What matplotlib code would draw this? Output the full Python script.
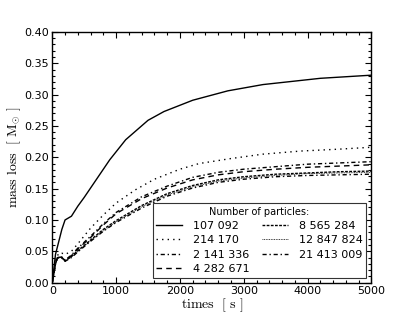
import matplotlib
matplotlib.use("Agg")
import matplotlib.pyplot as plt
from matplotlib.ticker import MultipleLocator
import numpy as np

plt.rcParams['mathtext.fontset'] = 'cm'
plt.rcParams['font.family'] = ['DejaVu Sans']

labels = ["107 092", "214 170", "2 141 336", "4 282 671",
          "8 565 284", "12 847 824", "21 413 009"]

t_a = [0, 50, 100, 150, 200, 300, 400, 500, 700, 900, 1150, 1500, 1750, 2200, 2750, 3300, 4200, 5000]
m_107092 = [0, 0.045, 0.065, 0.085, 0.100, 0.106, 0.122, 0.136, 0.166, 0.196, 0.228, 0.259, 0.273, 0.291, 0.306, 0.316, 0.326, 0.331]

t_b = [0, 50, 100, 150, 200, 300, 400, 600, 800, 1000, 1300, 1600, 2000, 2300, 2800, 3300, 3900, 4500, 5000]
m_214170 = [0, 0.035, 0.047, 0.047, 0.045, 0.050, 0.062, 0.087, 0.108, 0.127, 0.148, 0.165, 0.181, 0.190, 0.198, 0.205, 0.210, 0.213, 0.216]

t_c = [0, 50, 80, 150, 200, 300, 400, 600, 800, 1000, 1400, 1800, 2200, 2600, 3000, 3500, 4000, 4500, 5000]
m_2141336 = [0, 0.030, 0.040, 0.041, 0.036, 0.044, 0.055, 0.074, 0.094, 0.112, 0.137, 0.154, 0.168, 0.176, 0.181, 0.185, 0.189, 0.191, 0.193]
m_4282671 = [0, 0.030, 0.040, 0.040, 0.035, 0.043, 0.054, 0.072, 0.092, 0.110, 0.134, 0.151, 0.164, 0.172, 0.177, 0.181, 0.184, 0.186, 0.188]
m_8565284 = [0, 0.030, 0.040, 0.040, 0.035, 0.042, 0.051, 0.068, 0.085, 0.099, 0.123, 0.142, 0.155, 0.164, 0.169, 0.173, 0.175, 0.177, 0.178]
m_12847824 = [0, 0.030, 0.040, 0.040, 0.034, 0.041, 0.050, 0.067, 0.083, 0.097, 0.121, 0.140, 0.153, 0.162, 0.167, 0.171, 0.174, 0.175, 0.176]
m_21413009 = [0, 0.030, 0.039, 0.039, 0.034, 0.040, 0.049, 0.066, 0.082, 0.096, 0.119, 0.138, 0.151, 0.160, 0.165, 0.169, 0.171, 0.172, 0.173]

fig = plt.figure(figsize=(4.15, 3.13), dpi=100)
ax = fig.add_axes([0.126, 0.097, 0.769, 0.801])

lw = 1.0
ax.plot(t_a, m_107092, color='black', lw=lw, ls='-', label=labels[0])
ax.plot(t_b, m_214170, color='black', lw=lw, ls=(0, (1, 3)), label=labels[1])
ax.plot(t_c, m_2141336, color='black', lw=lw, ls=(0, (1, 2, 3, 2)), label=labels[2])
ax.plot(t_c, m_4282671, color='black', lw=lw, ls=(0, (4, 3)), label=labels[3])
ax.plot(t_c, m_8565284, color='black', lw=lw, ls=(0, (2, 1)), label=labels[4])
ax.plot(t_c, m_12847824, color='black', lw=0.6, ls=(0, (1, 1)), label=labels[5])
ax.plot(t_c, m_21413009, color='black', lw=lw, ls=(0, (3, 2, 1, 2)), label=labels[6])

ax.set_xlim(0, 5000)
ax.set_ylim(0, 0.40)
ax.xaxis.set_major_locator(MultipleLocator(1000))
ax.xaxis.set_minor_locator(MultipleLocator(200))
ax.yaxis.set_major_locator(MultipleLocator(0.05))
ax.yaxis.set_minor_locator(MultipleLocator(0.01))
ax.yaxis.set_major_formatter(matplotlib.ticker.FormatStrFormatter('%.2f'))
ax.tick_params(which='both', direction='in', top=True, right=True, labelsize=8)
ax.tick_params(which='major', length=4, width=0.8, pad=2.5)
ax.tick_params(which='minor', length=2, width=0.8)
for s in ax.spines.values():
    s.set_linewidth(1.0)

ax.set_xlabel(r'$\mathrm{times\ \ [\ s\ ]}$', fontsize=10, labelpad=0)
ax.set_ylabel(r'$\mathrm{mass\ loss\ \ [\ M_{\odot}\ ]}$', fontsize=10, labelpad=1)

leg = ax.legend(loc='lower right', ncol=2, fontsize=8, title='Number of particles:',
                title_fontsize=7, fancybox=False, edgecolor='#333333', framealpha=1,
                handlelength=2.3, borderaxespad=0.45, columnspacing=1.1,
                handletextpad=1.0, labelspacing=0.38, borderpad=0.35)
leg.get_frame().set_linewidth(0.8)

fig.savefig('out.png', dpi=100)
